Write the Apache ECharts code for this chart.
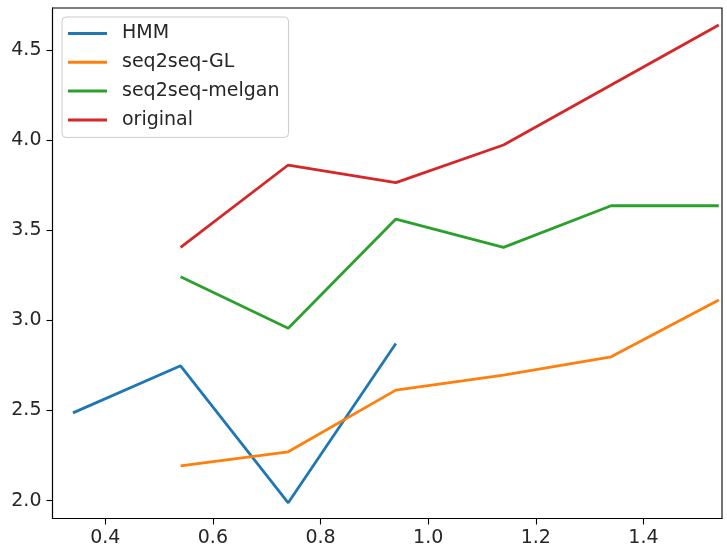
<!DOCTYPE html>
<html>
<head>
<meta charset="utf-8">
<script src="https://cdn.jsdelivr.net/npm/echarts@6/dist/echarts.min.js"></script>
<style>
  html, body { margin: 0; padding: 0; background: #fff; }
  #chart { width: 727px; height: 551px; }
</style>
</head>
<body>
<div id="chart"></div>
<script>
// x positions shared by the series
const xValues = [0.34, 0.54, 0.74, 0.94, 1.14, 1.34, 1.54];

// series values (null where a series has no point)
const hmm = [2.487, 2.748, 1.988, 2.872, null, null, null];
const seq2seqGL = [null, 2.193, 2.271, 2.613, 2.696, 2.798, 3.113];
const seq2seqMelgan = [null, 3.242, 2.956, 3.562, 3.405, 3.636, 3.636];
const original = [null, 3.405, 3.862, 3.764, 3.973, 4.306, 4.639];

// tick labels
const xTicks = [0.4, 0.6, 0.8, 1.0, 1.2, 1.4];
const yTicks = [2.0, 2.5, 3.0, 3.5, 4.0, 4.5];

const seriesDefs = [
  { name: 'HMM', values: hmm, color: '#1f77b4' },
  { name: 'seq2seq-GL', values: seq2seqGL, color: '#ff7f0e' },
  { name: 'seq2seq-melgan', values: seq2seqMelgan, color: '#2ca02c' },
  { name: 'original', values: original, color: '#d62728' }
];

const FONT = 'DejaVu Sans';
const FS = 19;

function pairs(values) {
  const out = [];
  values.forEach((v, i) => { if (v !== null) out.push([xValues[i], v]); });
  return out;
}

const chart = echarts.init(document.getElementById('chart'), null, { renderer: 'canvas' });

chart.setOption({
  animation: false,
  backgroundColor: '#ffffff',
  grid: {
    left: 52.5, right: 5, top: 8, bottom: 32.5,
    show: true, borderColor: '#000', borderWidth: 1.1, backgroundColor: 'transparent'
  },
  legend: {
    orient: 'vertical',
    left: 62, top: 17,
    padding: [7, 9, 8, 6],
    itemGap: 9.8,
    itemWidth: 39,
    itemHeight: 3,
    icon: 'rect',
    borderColor: '#cccccc',
    borderWidth: 1,
    borderRadius: 4,
    backgroundColor: 'rgba(255,255,255,0.8)',
    textStyle: { fontFamily: FONT, fontSize: FS, color: '#262626', lineHeight: 19, padding: [0, 0, 0, 10] },
    data: seriesDefs.map(s => s.name)
  },
  xAxis: {
    type: 'value',
    min: 0.302, max: 1.546,
    splitLine: { show: false },
    axisLine: { show: true, onZero: false, lineStyle: { color: '#000', width: 1.1 } },
    axisTick: { show: true, length: 6, lineStyle: { color: '#000', width: 1.1 }, customValues: xTicks },
    axisLabel: {
      margin: 10, fontFamily: FONT, fontSize: FS, color: '#262626',
      customValues: xTicks, formatter: v => Number(v).toFixed(1)
    }
  },
  yAxis: {
    type: 'value',
    min: 1.901, max: 4.733,
    splitLine: { show: false },
    axisLine: { show: true, onZero: false, lineStyle: { color: '#000', width: 1.1 } },
    axisTick: { show: true, length: 6, lineStyle: { color: '#000', width: 1.1 }, customValues: yTicks },
    axisLabel: {
      margin: 11, fontFamily: FONT, fontSize: FS, color: '#262626',
      customValues: yTicks, formatter: v => Number(v).toFixed(1)
    }
  },
  series: seriesDefs.map(s => ({
    name: s.name,
    type: 'line',
    data: pairs(s.values),
    showSymbol: false,
    symbol: 'none',
    clip: true,
    color: s.color,
    lineStyle: { color: s.color, width: 2.8 },
    emphasis: { disabled: true }
  }))
});
</script>
</body>
</html>
